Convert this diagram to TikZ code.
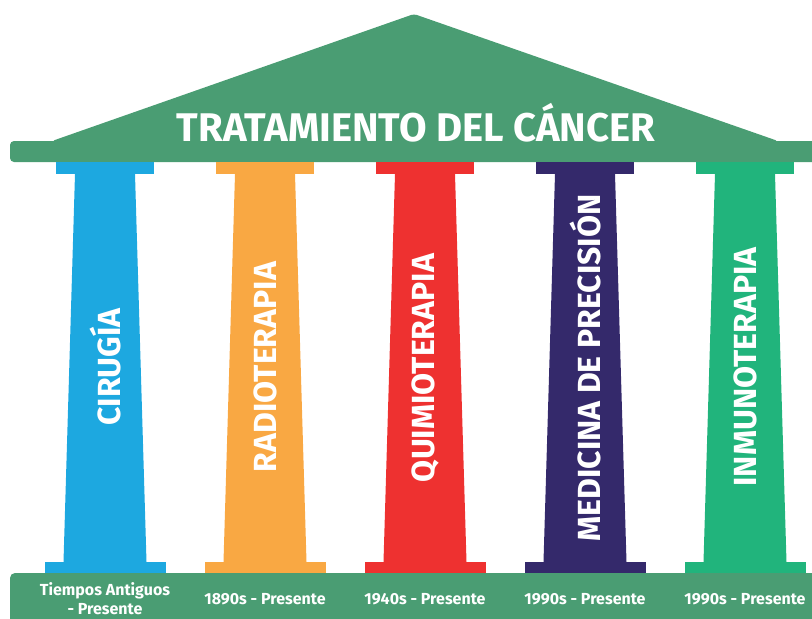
\documentclass[tikz,border=0pt]{standalone}
\usepackage{fontspec}
\newfontfamily\condfont{Fira Sans}
\usetikzlibrary{positioning}
\definecolor{roofgreen}{HTML}{4A9D73}
\definecolor{colblue}{HTML}{1DA8E0}
\definecolor{colorange}{HTML}{F9A843}
\definecolor{colred}{HTML}{EE3130}
\definecolor{colpurple}{HTML}{34296B}
\definecolor{colgreen}{HTML}{21B47C}
\tikzset{
    title/.style = {text=white, font=\condfont\bfseries\fontsize{40}{40}\selectfont},
    pillar/.style = {text=white, rotate=90, font=\condfont\bfseries\fontsize{32}{32}\selectfont},
    era/.style = {text=white, align=center, font=\condfont\bfseries\fontsize{16}{19}\selectfont}
}
\begin{document}
\begin{tikzpicture}[x=1pt,y=-1pt]
  \useasboundingbox (0,0) rectangle (812,619);

  % roof and beam
  \fill[roofgreen, rounded corners=3pt] (52,141) -- (414,14) -- (778,141) -- cycle;
  \fill[roofgreen, rounded corners=4pt] (10,141) rectangle (830,162);
  \node[title] (roof) at (416,123) {TRATAMIENTO DEL CÁNCER};

  % floor
  \fill[roofgreen, rounded corners=5pt] (10,573) rectangle (830,640);

  % column 1
  \fill[colblue] (56,162) rectangle (154,174);
  \fill[colblue] (75,174) -- (135,174) -- (146.5,562) -- (63.5,562) -- cycle;
  \fill[colblue] (44.5,562) rectangle (165.5,573);
  \node[pillar] (cirugia) at (105,367) {CIRUGÍA};
  \node[era] (era1) at (105,599) {Tiempos Antiguos\\- Presente};

  % column 2
  \fill[colorange] (216,162) rectangle (314,174);
  \fill[colorange] (235,174) -- (295,174) -- (306.5,562) -- (223.5,562) -- cycle;
  \fill[colorange] (204.5,562) rectangle (325.5,573);
  \node[pillar] (radio) at (265,367) {RADIOTERAPIA};
  \node[era] (era2) at (265,599) {1890s - Presente};

  % column 3
  \fill[colred] (376,162) rectangle (474,174);
  \fill[colred] (395,174) -- (455,174) -- (466.5,562) -- (383.5,562) -- cycle;
  \fill[colred] (364.5,562) rectangle (485.5,573);
  \node[pillar] (quimio) at (425,368) {QUIMIOTERAPIA};
  \node[era] (era3) at (425,599) {1940s - Presente};

  % column 4
  \fill[colpurple] (536,162) rectangle (634,174);
  \fill[colpurple] (555,174) -- (615,174) -- (626.5,562) -- (543.5,562) -- cycle;
  \fill[colpurple] (524.5,562) rectangle (645.5,573);
  \node[pillar] (medicina) at (585,368) {MEDICINA DE PRECISIÓN};
  \node[era] (era4) at (585,599) {1990s - Presente};

  % column 5
  \fill[colgreen] (696,162) rectangle (794,174);
  \fill[colgreen] (715,174) -- (775,174) -- (786.5,562) -- (703.5,562) -- cycle;
  \fill[colgreen] (684.5,562) rectangle (805.5,573);
  \node[pillar] (inmuno) at (745,367) {INMUNOTERAPIA};
  \node[era] (era5) at (745,599) {1990s - Presente};
\end{tikzpicture}
\end{document}
